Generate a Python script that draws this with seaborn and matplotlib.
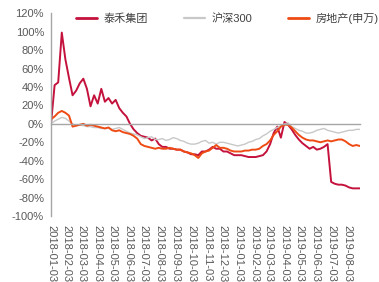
import matplotlib
matplotlib.use("Agg")
import matplotlib.pyplot as plt
import matplotlib.dates as mdates
import seaborn as sns
import pandas as pd

# weekly observations, cumulative return since 2018-01-03 (%)
dates = pd.date_range("2018-01-03", periods=87, freq="7D")

taihe = [0, 42, 45, 99, 70, 50, 31, 36, 44, 49,
         38, 19, 31, 22, 38, 24, 28, 22, 26, 17,
         12, 8, 0, -6, -10, -13, -14, -15, -18, -16,
         -22, -25, -25, -27, -27, -28, -28, -30, -31, -33,
         -33, -34, -30, -30, -28, -25, -27, -27, -30, -30,
         -32, -34, -34, -34, -35, -36, -36, -36, -35, -34,
         -30, -22, -10, -3, -15, 2, -1, -6, -12, -17,
         -21, -24, -27, -25, -28, -27, -25, -22, -63, -65,
         -66, -66, -67, -69, -70, -70, -70]

hs300 = [0, 3, 5, 7, 6, 3, 0, -2, -1, -2,
         -3, -3, -4, -4, -5, -5, -4, -6, -5, -4,
         -6, -8, -10, -11, -12, -14, -16, -15, -14, -17,
         -17, -16, -18, -17, -15, -16, -18, -19, -21, -22,
         -22, -21, -19, -18, -21, -20, -22, -20, -20, -21,
         -22, -23, -24, -23, -22, -20, -19, -17, -16, -13,
         -11, -8, -6, -4, -2, 0, 1, -3, -5, -7,
         -8, -10, -10, -9, -7, -6, -5, -7, -8, -9,
         -10, -9, -8, -7, -7, -6, -6]

realty = [5, 8, 12, 14, 12, 9, -3, -2, -1, 0,
          -2, -1, -2, -3, -4, -5, -4, -7, -8, -7,
          -9, -10, -11, -13, -16, -22, -24, -25, -26, -27,
          -26, -27, -27, -26, -27, -28, -28, -30, -31, -32,
          -34, -37, -32, -30, -29, -26, -23, -26, -26, -27,
          -29, -30, -30, -30, -29, -29, -28, -28, -27, -24,
          -22, -18, -12, -8, -3, -1, -1, -4, -8, -12,
          -15, -17, -18, -18, -19, -20, -19, -18, -19, -18,
          -17, -17, -19, -22, -24, -23, -24]

series_names = ["泰禾集团", "沪深300", "房地产(申万)"]
colors = ["#C4123D", "#C8C8C8", "#EE4B14"]
widths = [1.4, 1.0, 1.4]

month_ticks = pd.date_range("2018-01-03", "2019-08-03", freq=pd.DateOffset(months=1))
y_ticks = list(range(-100, 121, 20))

df = pd.DataFrame({"date": dates, "泰禾集团": taihe, "沪深300": hs300, "房地产(申万)": realty})
long_df = df.melt(id_vars="date", var_name="series", value_name="ret")

sns.set_style("white")
plt.rcParams["font.family"] = ["Liberation Sans", "Noto Sans CJK SC"]

fig = plt.figure(figsize=(3.79, 2.82), dpi=100)
ax = fig.add_axes([0.1346, 0.234, 0.815, 0.719])

sns.lineplot(data=long_df, x="date", y="ret", hue="series", hue_order=series_names,
             palette=dict(zip(series_names, colors)), ax=ax, legend=False)
for line, lw in zip(ax.get_lines(), widths):
    line.set_linewidth(lw)

ax.set_ylim(-100, 120)
ax.set_xlim(dates[0], dates[-1])
ax.set_yticks(y_ticks)
ax.set_yticklabels([f"{v}%" for v in y_ticks])
ax.set_xticks(month_ticks)
ax.xaxis.set_major_formatter(mdates.DateFormatter("%Y-%m-%d"))
ax.set_xlabel("")
ax.set_ylabel("")

for s in ["top", "right"]:
    ax.spines[s].set_visible(False)
ax.spines["bottom"].set_position(("data", 0))
for s in ["left", "bottom"]:
    ax.spines[s].set_color("#A6A6A6")
    ax.spines[s].set_linewidth(1.0)

ax.tick_params(axis="y", direction="out", length=3, width=0.8, color="#A6A6A6",
               labelsize=8, labelcolor="#595959", pad=2)
ax.tick_params(axis="x", direction="out", length=2.5, width=0.8, color="#A6A6A6",
               labelsize=8, labelcolor="#595959", pad=70, labelrotation=-90)
for lbl in ax.get_xticklabels():
    lbl.set_va("top")
    lbl.set_ha("center")

handles = [plt.Line2D([], [], color=c, lw=w + 0.6) for c, w in zip(colors, widths)]
fig.legend(handles, series_names, loc="center", bbox_to_anchor=(0.6, 0.936), ncol=3,
           frameon=False, fontsize=8, handlelength=1.9, handletextpad=0.6,
           columnspacing=3.2, labelcolor="#404040")

fig.savefig("out.png", dpi=100)
